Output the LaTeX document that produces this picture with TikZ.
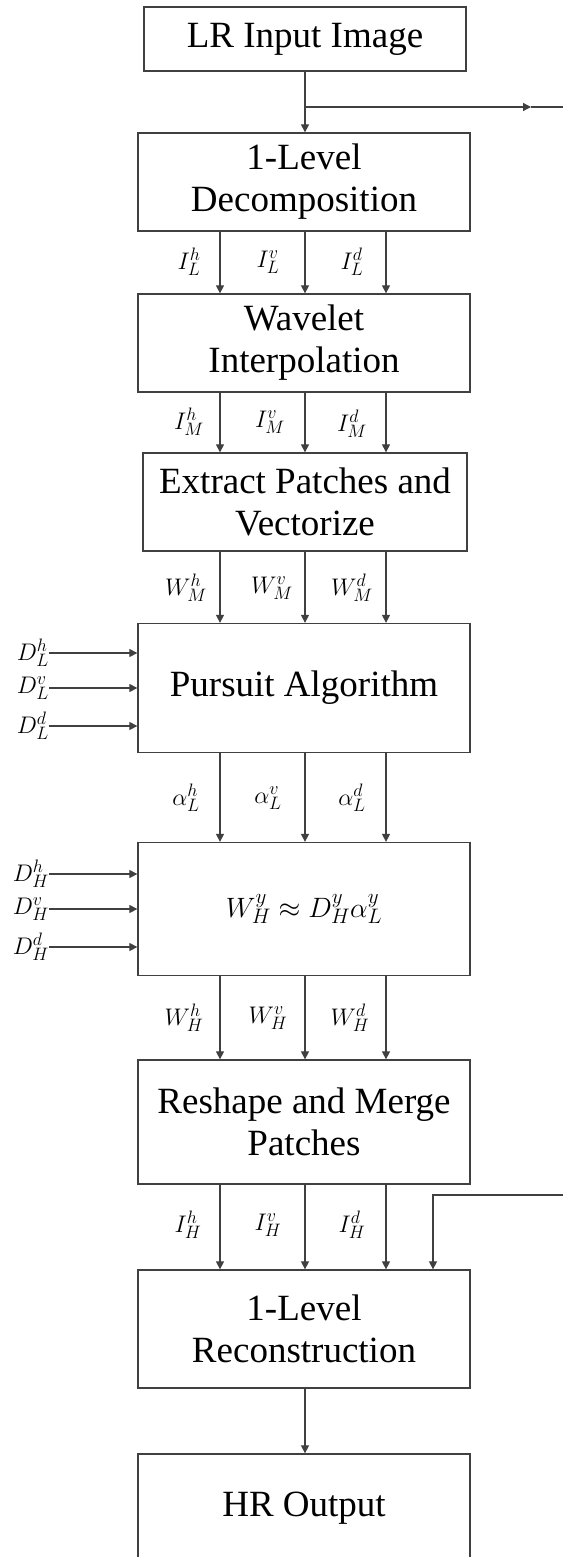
\RequirePackage{fix-cm}
\documentclass[tikz,border=0pt]{standalone}
\usepackage{fontspec}
\setmainfont{Liberation Serif}
\usetikzlibrary{arrows.meta}
\definecolor{lineg}{RGB}{64,64,64}
\DeclareMathSizes{24}{24}{18}{14}
\DeclareMathSizes{28}{28}{21}{16}

\begin{document}
\begin{tikzpicture}[
x=1pt,y=-1pt,
blk/.style={
draw=lineg,
line width=1.3pt,
inner sep=0pt,
minimum width=332pt,
align=center,
font=\fontsize{37}{42}\selectfont
},
lbl/.style={
inner sep=0pt,
font=\fontsize{24}{26}\selectfont
},
arrow/.style={
-{Triangle[length=8pt,width=8pt]},
line width=1.2pt,
draw=lineg
},
plain/.style={
line width=1.2pt,
draw=lineg
}
]
\useasboundingbox (0,0) rectangle (563,1557);

\node[blk, minimum width=322pt, minimum height=64pt] (lr) at (305,39)
{LR Input Image};

\node[blk, minimum height=98pt] (dec) at (304,182)
{1-Level\\Decomposition};

\node[blk, minimum height=98pt] (wav) at (304,343)
{Wavelet\\Interpolation};

\node[blk, minimum width=324pt, minimum height=98pt] (ext) at (305,502)
{Extract Patches and\\Vectorize};

\node[blk, minimum height=129pt] (pur) at (304,688)
{Pursuit Algorithm};

\node[blk, minimum height=133pt] (est) at (304,909)
{\fontsize{28}{30}\selectfont$W_H^y \approx D_H^y\alpha_L^y$};

\node[blk, minimum height=124pt] (rsh) at (304,1122)
{Reshape and Merge\\Patches};

\node[blk, minimum height=118pt] (rec) at (304,1329)
{1-Level\\Reconstruction};

\node[blk, minimum height=108pt] (hro) at (304,1508)
{HR Output};

% side branch of the input image
\coordinate (split) at (305,107);
\coordinate (tapout) at (531,107);
\coordinate (edgeout) at (563,107);
\coordinate (tapin) at (563,1195);

\draw[arrow] (lr.south) -- (lr.south |- dec.north);
\draw[arrow] (split) -- (tapout);
\draw[plain] (tapout) -- (edgeout);

% subband labels
\node[lbl] (ilh) at (189,262) {$I_L^h$};
\node[lbl] (ilv) at (268,262) {$I_L^v$};
\node[lbl] (ild) at (352,262) {$I_L^d$};

\node[lbl] (imh) at (189,422) {$I_M^h$};
\node[lbl] (imv) at (270,422) {$I_M^v$};
\node[lbl] (imd) at (352,424) {$I_M^d$};

\node[lbl] (wmh) at (186,588) {$W_M^h$};
\node[lbl] (wmv) at (272,588) {$W_M^v$};
\node[lbl] (wmd) at (352,588) {$W_M^d$};

\node[lbl] (alh) at (186,798) {$\alpha_L^h$};
\node[lbl] (alv) at (268,798) {$\alpha_L^v$};
\node[lbl] (ald) at (352,798) {$\alpha_L^d$};

\node[lbl] (whh) at (184,1018) {$W_H^h$};
\node[lbl] (whv) at (268,1018) {$W_H^v$};
\node[lbl] (whd) at (350,1018) {$W_H^d$};

\node[lbl] (ihh) at (188,1225) {$I_H^h$};
\node[lbl] (ihv) at (268,1225) {$I_H^v$};
\node[lbl] (ihd) at (352,1225) {$I_H^d$};

% dictionaries
\node[lbl, anchor=east] (dlh) at (49,653) {$D_L^h$};
\node[lbl, anchor=east] (dlv) at (49,688) {$D_L^v$};
\node[lbl, anchor=east] (dld) at (49,726) {$D_L^d$};

\node[lbl, anchor=east] (dhh) at (49,874) {$D_H^h$};
\node[lbl, anchor=east] (dhv) at (49,909) {$D_H^v$};
\node[lbl, anchor=east] (dhd) at (49,947) {$D_H^d$};

\draw[arrow] (dlh.east) -- (dlh.east -| pur.west);
\draw[arrow] (dlv.east) -- (dlv.east -| pur.west);
\draw[arrow] (dld.east) -- (dld.east -| pur.west);

\draw[arrow] (dhh.east) -- (dhh.east -| est.west);
\draw[arrow] (dhv.east) -- (dhv.east -| est.west);
\draw[arrow] (dhd.east) -- (dhd.east -| est.west);

% three subband paths
\draw[arrow] ([xshift=-84pt]dec.south) -- ([xshift=-84pt]wav.north);
\draw[arrow] ([xshift=1pt]dec.south) -- ([xshift=1pt]wav.north);
\draw[arrow] ([xshift=82pt]dec.south) -- ([xshift=82pt]wav.north);

\draw[arrow] ([xshift=-84pt]wav.south) -- ([xshift=-85pt]ext.north);
\draw[arrow] ([xshift=1pt]wav.south) -- ([xshift=0pt]ext.north);
\draw[arrow] ([xshift=82pt]wav.south) -- ([xshift=81pt]ext.north);

\draw[arrow] ([xshift=-85pt]ext.south) -- ([xshift=-84pt]pur.north);
\draw[arrow] ([xshift=0pt]ext.south) -- ([xshift=1pt]pur.north);
\draw[arrow] ([xshift=81pt]ext.south) -- ([xshift=82pt]pur.north);

\draw[arrow] ([xshift=-84pt]pur.south) -- ([xshift=-84pt]est.north);
\draw[arrow] ([xshift=1pt]pur.south) -- ([xshift=1pt]est.north);
\draw[arrow] ([xshift=82pt]pur.south) -- ([xshift=82pt]est.north);

\draw[arrow] ([xshift=-84pt]est.south) -- ([xshift=-84pt]rsh.north);
\draw[arrow] ([xshift=1pt]est.south) -- ([xshift=1pt]rsh.north);
\draw[arrow] ([xshift=82pt]est.south) -- ([xshift=82pt]rsh.north);

\draw[arrow] ([xshift=-84pt]rsh.south) -- ([xshift=-84pt]rec.north);
\draw[arrow] ([xshift=1pt]rsh.south) -- ([xshift=1pt]rec.north);
\draw[arrow] ([xshift=82pt]rsh.south) -- ([xshift=82pt]rec.north);

\draw[arrow] (tapin) -| ([xshift=129pt]rec.north);

\draw[arrow] ([xshift=1pt]rec.south) -- ([xshift=1pt]hro.north);

\end{tikzpicture}
\end{document}
